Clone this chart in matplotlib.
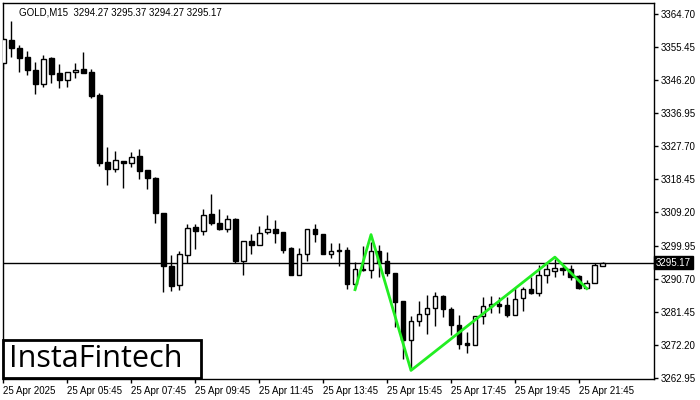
import matplotlib
matplotlib.use('Agg')
import matplotlib.pyplot as plt
import matplotlib.transforms as mtransforms

# GOLD M15 candles
opens = [3351.06, 3357.42, 3355.18, 3352.66, 3349.02, 3345.18, 3352.46, 3348.18, 3346.14, 3348.38,
         3349.30, 3348.38, 3342.02, 3323.26, 3321.38, 3323.54, 3322.90, 3324.94, 3321.02, 3318.70,
         3309.18, 3294.14, 3288.82, 3297.42, 3305.06, 3304.14, 3308.90, 3306.38, 3304.70, 3307.30,
         3295.54, 3301.34, 3300.22, 3303.74, 3304.50, 3303.66, 3299.26, 3291.82, 3297.70, 3304.70,
         3303.30, 3297.58, 3298.82, 3298.62, 3289.30, 3293.50, 3293.02, 3298.34, 3295.54, 3292.38,
         3284.34, 3273.42, 3278.74, 3280.90, 3282.58, 3285.74, 3282.10, 3277.82, 3272.66, 3272.22,
         3280.14, 3283.02, 3283.70, 3283.22, 3280.42, 3285.38, 3287.70, 3286.66, 3291.82, 3292.94,
         3293.66, 3293.30, 3291.34, 3288.06, 3289.58, 3294.27]
highs = [3358.06, 3362.74, 3356.02, 3354.34, 3351.18, 3353.22, 3352.74, 3350.62, 3348.38, 3351.06,
         3354.14, 3349.30, 3342.58, 3327.54, 3326.42, 3323.54, 3326.14, 3326.90, 3321.02, 3319.14,
         3309.18, 3297.22, 3298.34, 3306.10, 3306.10, 3310.10, 3314.30, 3310.10, 3308.42, 3307.78,
         3301.34, 3303.30, 3305.42, 3308.62, 3306.98, 3303.66, 3299.54, 3299.38, 3304.70, 3306.10,
         3303.30, 3300.78, 3300.78, 3299.54, 3295.34, 3299.82, 3300.94, 3300.02, 3298.00, 3292.38,
         3284.34, 3280.22, 3284.34, 3286.22, 3286.94, 3286.02, 3282.74, 3280.62, 3275.74, 3280.14,
         3285.54, 3285.82, 3285.54, 3285.54, 3288.06, 3288.34, 3291.14, 3294.62, 3294.90, 3296.30,
         3294.42, 3294.42, 3291.82, 3290.22, 3295.18, 3295.37]
lows = [3349.30, 3352.74, 3348.38, 3347.62, 3342.38, 3344.26, 3345.46, 3344.06, 3344.34, 3346.86,
        3348.10, 3341.10, 3322.22, 3316.82, 3320.54, 3316.06, 3321.78, 3318.50, 3315.70, 3306.26,
        3286.94, 3287.22, 3287.62, 3295.18, 3299.10, 3303.02, 3305.82, 3304.22, 3303.74, 3295.06,
        3291.82, 3297.70, 3300.22, 3303.18, 3300.66, 3297.86, 3291.62, 3291.82, 3295.62, 3300.94,
        3297.58, 3296.46, 3294.22, 3287.90, 3287.90, 3292.74, 3290.86, 3291.14, 3291.42, 3277.14,
        3268.30, 3265.30, 3277.34, 3275.30, 3277.42, 3279.94, 3275.02, 3271.10, 3269.86, 3272.22,
        3277.90, 3281.06, 3281.06, 3279.94, 3280.42, 3281.54, 3286.50, 3285.82, 3289.46, 3291.14,
        3291.82, 3290.42, 3287.90, 3288.06, 3289.58, 3294.27]
closes = [3357.62, 3355.10, 3352.46, 3348.94, 3345.18, 3352.10, 3347.98, 3346.30, 3348.38, 3349.02,
          3348.26, 3341.82, 3323.06, 3321.38, 3323.82, 3322.90, 3324.58, 3320.82, 3318.86, 3309.06,
          3294.22, 3288.62, 3297.70, 3304.98, 3304.02, 3308.62, 3306.26, 3304.50, 3307.30, 3295.54,
          3301.34, 3300.02, 3303.58, 3304.50, 3303.46, 3298.70, 3291.82, 3297.70, 3304.70, 3303.18,
          3297.58, 3298.34, 3298.34, 3289.30, 3293.50, 3293.02, 3298.34, 3295.06, 3292.26, 3284.14,
          3273.42, 3278.82, 3280.90, 3282.58, 3285.82, 3282.10, 3277.82, 3272.50, 3272.22, 3280.14,
          3282.94, 3283.70, 3283.02, 3280.42, 3285.10, 3287.70, 3286.66, 3291.82, 3293.30, 3293.66,
          3293.02, 3291.14, 3288.06, 3289.58, 3294.62, 3295.17]

# pattern outline (bar index, price)
pattern_bars = [44, 46, 51, 69, 73]
pattern_prices = [3287.6, 3303.0, 3265.0, 3296.7, 3287.9]

last_price = 3295.17
yticks = [3262.95, 3272.20, 3281.45, 3290.70, 3299.95, 3309.20, 3318.45,
          3327.70, 3336.95, 3346.20, 3355.45, 3364.70]
xtick_bars = [0, 8, 16, 24, 32, 40, 48, 56, 64, 72]
xtick_labels = ['25 Apr 2025', '25 Apr 05:45', '25 Apr 07:45', '25 Apr 09:45', '25 Apr 11:45',
                '25 Apr 13:45', '25 Apr 15:45', '25 Apr 17:45', '25 Apr 19:45', '25 Apr 21:45']

plt.rcParams['font.family'] = ['Liberation Sans', 'DejaVu Sans']

fig = plt.figure(figsize=(7, 4), dpi=100)
ax = fig.add_axes([3/700, 21/400, 651/700, 376/400])

idx = list(range(len(opens)))
ax.vlines(idx, lows, highs, color='black', linewidth=1)
bottoms = [min(o, c) for o, c in zip(opens, closes)]
heights = [max(abs(c - o), 0.25) for o, c in zip(opens, closes)]
faces = ['white' if c >= o else 'black' for o, c in zip(opens, closes)]
ax.bar(idx, heights, bottom=bottoms, width=0.6, color=faces, edgecolor='black',
       linewidth=1, zorder=3)

ax.axhline(last_price, color='black', linewidth=1, zorder=2)
ax.plot(pattern_bars, pattern_prices, color='#22ee22', linewidth=2, zorder=4)

ax.set_xlim(-0.04, 81.4)
ax.set_ylim(3262.6, 3367.8)

ax.yaxis.tick_right()
ax.set_yticks(yticks)
ax.set_yticklabels(['%.2f' % v for v in yticks])
ax.set_xticks(xtick_bars)
ax.set_xticklabels(xtick_labels, ha='left')
ax.tick_params(axis='both', direction='out', length=3, width=1, labelsize=7, pad=2)
for s in ax.spines.values():
    s.set_linewidth(1)

trans = mtransforms.blended_transform_factory(ax.transAxes, ax.transData)
ax.text(1.003, last_price, '%.2f' % last_price, transform=trans, fontsize=7, color='white',
        va='center', ha='left', bbox=dict(facecolor='black', edgecolor='black', pad=1.2))

ax.text(0.024, 0.987, 'GOLD,M15  3294.27 3295.37 3294.27 3295.17', transform=ax.transAxes,
        fontsize=7, va='top', ha='left')

# logo box
fig.patches.append(plt.Rectangle((3/700, 22/400), 198/700, 38/400, transform=fig.transFigure,
                                 facecolor='white', edgecolor='black', linewidth=2, zorder=5))
fig.text(96/700, 41/400, 'InstaFintech', fontsize=22, family='Open Sans', ha='center',
         va='center', color='black', zorder=6)

fig.savefig('out.png', dpi=100)
